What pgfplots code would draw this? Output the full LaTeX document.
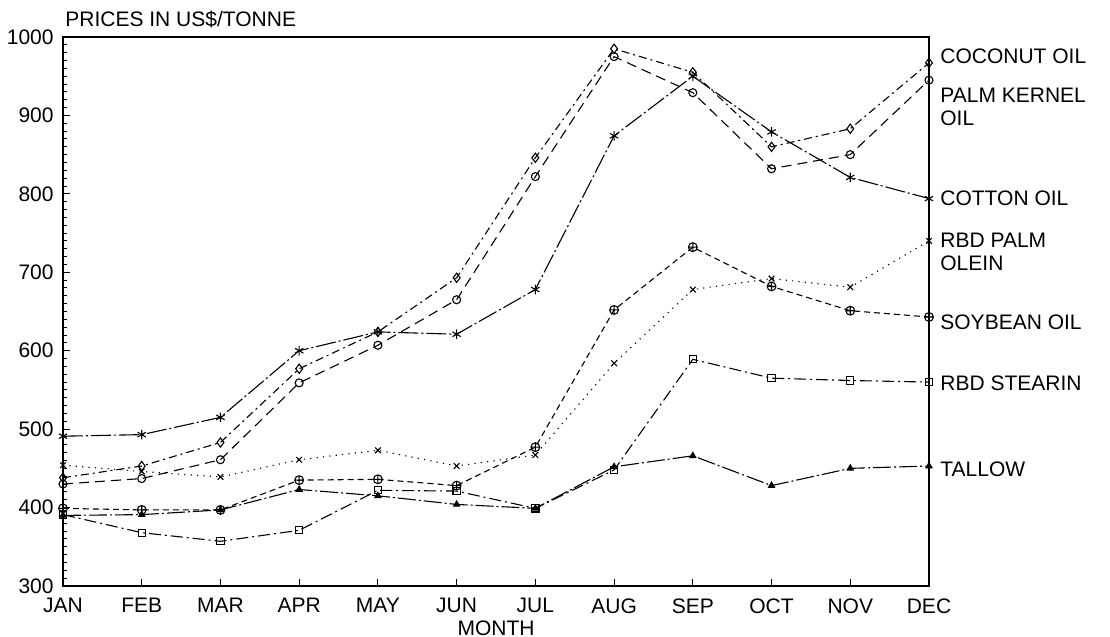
\documentclass[border=0pt]{standalone}
\usepackage{fontspec}
\setmainfont{Liberation Sans}
\usepackage{pgfplots}
\pgfplotsset{compat=1.18}
\begin{document}
\fontsize{10.5}{12}\selectfont
\begin{tikzpicture}
\path[use as bounding box] (-31.5pt,-25.5pt) rectangle (523.5pt,293pt);
\begin{axis}[
  at={(0pt,0pt)}, anchor=south west,
  width=433pt, height=274.5pt, scale only axis,
  xmin=0, xmax=11, ymin=300, ymax=1000,
  xtick={0,...,11},
  xticklabels={JAN,FEB,MAR,APR,MAY,JUN,JUL,AUG,SEP,OCT,NOV,DEC},
  ytick={300,400,...,1000},
  minor y tick num=9,
  xtick pos=left, ytick pos=left,
  tick align=inside,
  major tick length=3.5pt, minor tick length=2pt,
  axis line style={line width=0.6pt},
  tick style={black, line width=0.5pt},
  /pgf/number format/assume math mode=true,
  /pgf/number format/1000 sep={},
  tick label style={font=\fontsize{10.5}{12}\selectfont},
  xticklabel style={inner sep=0pt, anchor=north, yshift=-6pt},
  yticklabel style={inner sep=0pt, anchor=east, xshift=-4.5pt},
  every axis plot/.append style={black, line width=0.55pt},
  clip=false,
]
% Coconut oil
\addplot[dash pattern=on 4pt off 2pt on 1pt off 2pt, mark=diamond, mark size=2.3pt, mark options={solid}]
  coordinates {(0,438) (1,453) (2,483) (3,577) (4,624) (5,693) (6,846) (7,985) (8,955) (9,860) (10,883) (11,967)};
% Palm kernel oil
\addplot[dash pattern=on 5pt off 3pt, mark=o, mark size=2pt, mark options={solid}]
  coordinates {(0,430) (1,437) (2,461) (3,559) (4,607) (5,665) (6,822) (7,975) (8,929) (9,832) (10,850) (11,945)};
% Cotton oil
\addplot[dash pattern=on 10pt off 1.5pt on 1pt off 1.5pt, mark=asterisk, mark size=2.4pt, mark options={solid}]
  coordinates {(0,491) (1,493) (2,515) (3,600) (4,624) (5,621) (6,678) (7,874) (8,950) (9,879) (10,821) (11,794)};
% RBD palm olein
\addplot[dash pattern=on 0.6pt off 2.6pt, mark=x, mark size=2pt, mark options={solid}]
  coordinates {(0,454) (1,446) (2,439) (3,461) (4,473) (5,453) (6,467) (7,584) (8,678) (9,692) (10,681) (11,740)};
% Soybean oil
\addplot[dash pattern=on 3pt off 2pt, mark=oplus, mark size=2.2pt, mark options={solid}]
  coordinates {(0,399) (1,397) (2,397) (3,435) (4,436) (5,428) (6,477) (7,652) (8,732) (9,682) (10,651) (11,643)};
% RBD stearin
\addplot[dash pattern=on 6pt off 2pt on 1pt off 2pt, mark=square, mark size=1.8pt, mark options={solid}]
  coordinates {(0,391) (1,368) (2,357) (3,371) (4,422) (5,421) (6,399) (7,448) (8,589) (9,565) (10,562) (11,560)};
% Tallow
\addplot[dash pattern=on 9pt off 1.5pt on 1pt off 1.5pt, mark=triangle*, mark size=1.7pt, mark options={solid}]
  coordinates {(0,390) (1,391) (2,397) (3,423) (4,415) (5,404) (6,399) (7,452) (8,466) (9,428) (10,450) (11,453)};

\node[anchor=base west, inner sep=0pt, xshift=1pt, yshift=5.5pt] at (rel axis cs:0,1) {PRICES IN US\$/TONNE};
\node[anchor=north, inner sep=0pt, yshift=-17pt] at (rel axis cs:0.5,0) {MONTH};
\node[anchor=west, inner sep=0pt, xshift=5.5pt] at (axis cs:11,976) {COCONUT OIL};
\node[anchor=west, inner sep=0pt, xshift=5.5pt] at (axis cs:11,926) {PALM KERNEL};
\node[anchor=west, inner sep=0pt, xshift=5.5pt] at (axis cs:11,897) {OIL};
\node[anchor=west, inner sep=0pt, xshift=5.5pt] at (axis cs:11,794) {COTTON OIL};
\node[anchor=west, inner sep=0pt, xshift=5.5pt] at (axis cs:11,741) {RBD PALM};
\node[anchor=west, inner sep=0pt, xshift=5.5pt] at (axis cs:11,711) {OLEIN};
\node[anchor=west, inner sep=0pt, xshift=5.5pt] at (axis cs:11,636) {SOYBEAN OIL};
\node[anchor=west, inner sep=0pt, xshift=5.5pt] at (axis cs:11,559) {RBD STEARIN};
\node[anchor=west, inner sep=0pt, xshift=5.5pt] at (axis cs:11,449) {TALLOW};
\end{axis}
\end{tikzpicture}
\end{document}
